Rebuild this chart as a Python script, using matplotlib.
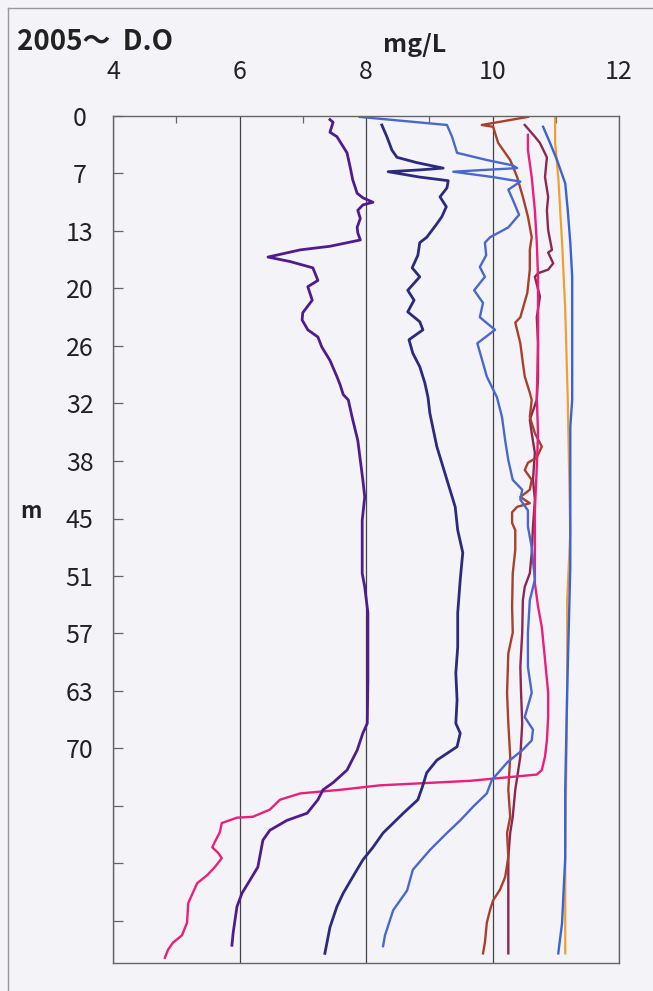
import numpy as np
import matplotlib
matplotlib.use("Agg")
import matplotlib.pyplot as plt
from matplotlib.lines import Line2D

plt.rcParams['font.family'] = ['Noto Sans CJK JP', 'DejaVu Sans']

# 溶存酸素プロファイル (mg/L, 水深 m)
do_a = [7.43, 7.48, 7.43, 7.54, 7.70, 7.75, 7.79, 7.86, 7.95, 8.11, 7.95, 7.87, 7.91, 7.86, 7.87, 7.91,
        7.43, 6.96, 6.45, 6.80, 7.16, 7.24, 7.08, 7.15, 7.00, 6.99, 7.08, 7.24, 7.30, 7.43, 7.54, 7.59,
        7.64, 7.72, 7.79, 7.87, 7.91, 7.95, 7.98, 7.94, 7.94, 7.94, 7.98, 8.03, 8.03, 8.02, 7.95, 7.86,
        7.70, 7.48, 7.32, 7.24, 7.07, 6.75, 6.48, 6.37, 6.29, 6.17, 6.04, 5.96, 5.90, 5.88]
dep_a = [0.4, 0.7, 1.8, 2.3, 4.1, 5.7, 7.1, 8.6, 9.1, 9.6, 9.9, 10.5, 11.4, 12.4, 13.0, 13.8,
         14.5, 14.9, 15.7, 16.2, 16.9, 18.3, 19.0, 20.5, 21.9, 22.7, 23.8, 24.6, 25.7, 27.2, 29.0, 29.9,
         31.0, 31.6, 33.8, 36.1, 38.3, 40.5, 42.4, 45.0, 48.0, 50.9, 52.4, 55.3, 62.8, 67.6, 68.7, 70.6,
         72.8, 74.2, 75.0, 76.1, 77.6, 78.4, 79.5, 80.6, 83.6, 85.0, 86.5, 88.0, 90.9, 92.3]

do_b = [8.25, 8.33, 8.41, 8.49, 8.81, 9.22, 8.85, 8.35, 8.85, 9.30, 9.28, 9.17, 9.27, 9.20, 9.11, 8.96,
        8.85, 8.82, 8.73, 8.85, 8.66, 8.76, 8.66, 8.85, 8.90, 8.68, 8.74, 8.85, 8.93, 8.98, 9.01, 9.12,
        9.28, 9.41, 9.45, 9.53, 9.49, 9.45, 9.45, 9.42, 9.44, 9.42, 9.49, 9.44, 9.12, 8.96, 8.89, 8.82,
        8.59, 8.27, 8.11, 7.95, 7.79, 7.64, 7.54, 7.43, 7.35]
dep_b = [1.0, 2.3, 3.8, 4.6, 5.2, 5.8, 6.0, 6.2, 6.8, 7.2, 8.0, 9.0, 10.1, 11.2, 12.1, 13.5,
         14.1, 15.5, 16.9, 17.9, 19.4, 20.5, 21.8, 22.9, 23.8, 24.9, 26.4, 27.9, 29.7, 31.3, 33.1, 36.8,
         40.5, 43.5, 46.1, 48.6, 51.6, 55.3, 59.1, 62.0, 65.0, 67.6, 68.7, 70.2, 71.7, 73.1, 74.7, 76.1,
         77.6, 79.8, 81.4, 82.8, 84.7, 86.5, 88.0, 90.3, 93.2]

do_c = [7.90, 9.28, 9.36, 9.44, 9.91, 10.32, 10.39, 9.38, 10.01, 10.44, 10.25, 10.32, 10.42, 10.25, 9.96,
        9.88, 9.90, 9.80, 9.88, 9.71, 9.85, 9.80, 10.04, 9.76, 9.85, 9.91, 10.07, 10.15, 10.20, 10.25,
        10.32, 10.47, 10.44, 10.56, 10.56, 10.62, 10.67, 10.59, 10.56, 10.56, 10.62, 10.51, 10.64, 10.62,
        10.47, 10.24, 9.99, 9.91, 9.69, 9.49, 9.28, 9.01, 8.74, 8.65, 8.43, 8.30, 8.27]
dep_c = [0.1, 1.0, 2.3, 4.1, 4.9, 5.5, 5.8, 6.2, 6.8, 7.3, 8.2, 9.3, 11.0, 12.4, 13.5,
         14.1, 15.5, 16.8, 17.9, 19.4, 20.8, 22.4, 23.8, 25.3, 27.5, 29.0, 31.3, 33.5, 36.1, 38.3,
         40.5, 41.6, 42.7, 43.9, 45.7, 48.0, 51.6, 53.9, 57.5, 61.3, 64.2, 66.9, 68.3, 69.5,
         70.6, 71.9, 73.9, 75.4, 76.9, 78.4, 79.8, 81.7, 83.9, 86.2, 88.4, 91.2, 92.4]

do_d = [10.56, 9.83, 10.01, 10.09, 10.28, 10.39, 10.48, 10.56, 10.62, 10.59, 10.59, 10.55, 10.44, 10.36,
        10.44, 10.48, 10.51, 10.59, 10.62, 10.59, 10.67, 10.78, 10.70, 10.56, 10.51, 10.62, 10.59, 10.44,
        10.59, 10.39, 10.31, 10.31, 10.36, 10.36, 10.32, 10.31, 10.32, 10.25, 10.23, 10.25, 10.28, 10.25,
        10.28, 10.23, 10.25, 10.20, 10.12, 10.01, 9.96, 9.91, 9.88, 9.85]
dep_d = [0.1, 1.0, 1.2, 3.0, 4.9, 6.8, 9.0, 11.2, 13.5, 14.9, 17.1, 19.7, 22.4, 23.0,
         25.3, 27.5, 29.0, 30.8, 31.6, 33.5, 35.3, 36.8, 38.0, 38.6, 39.4, 40.5, 41.6, 42.4,
         43.1, 43.5, 44.1, 45.3, 46.1, 48.3, 50.9, 54.6, 57.5, 59.8, 64.2, 67.6, 71.3, 75.0,
         78.0, 79.8, 82.5, 84.7, 86.1, 87.3, 88.4, 89.8, 92.0, 93.2]

do_e = [10.56, 10.56, 10.62, 10.67, 10.70, 10.72, 10.72, 10.70, 10.72, 10.70, 10.67, 10.67, 10.72, 10.78,
        10.83, 10.88, 10.88, 10.86, 10.83, 10.78, 10.70, 9.64, 8.22, 7.59, 6.96, 6.64, 6.48, 6.21, 5.96,
        5.72, 5.69, 5.61, 5.57, 5.66, 5.72, 5.61, 5.49, 5.33, 5.19, 5.17, 5.09, 4.95, 4.87, 4.82]
dep_e = [2.1, 3.8, 6.8, 10.5, 14.1, 17.9, 25.3, 31.3, 35.3, 39.1, 43.9, 52.0, 54.6, 56.9,
         60.5, 64.2, 66.9, 69.5, 71.3, 72.8, 73.3, 74.0, 74.5, 75.0, 75.4, 76.1, 77.2, 78.0, 78.1,
         78.7, 79.7, 80.8, 81.4, 82.0, 82.6, 83.6, 84.5, 85.4, 87.6, 89.8, 91.2, 92.0, 92.8, 93.7]

do_f = [10.51, 10.67, 10.75, 10.86, 10.83, 10.88, 10.86, 10.88, 10.94, 10.88, 10.96, 10.88, 10.72, 10.67,
        10.75, 10.70, 10.72, 10.72, 10.70, 10.59, 10.62, 10.67, 10.64, 10.67, 10.64, 10.62, 10.59, 10.51,
        10.48, 10.47, 10.44, 10.45, 10.47, 10.44, 10.36, 10.32, 10.28, 10.25, 10.25]
dep_f = [1.0, 2.3, 3.0, 4.6, 6.8, 9.0, 10.5, 12.7, 14.9, 15.2, 16.4, 17.1, 17.5, 17.9,
         20.1, 22.4, 25.3, 29.0, 31.6, 33.8, 35.3, 37.5, 40.5, 42.7, 45.7, 48.6, 50.9, 52.4,
         53.9, 57.5, 61.3, 63.9, 67.6, 71.3, 75.0, 78.0, 79.8, 82.5, 93.2]

do_g = [10.80, 10.91, 11.02, 11.15, 11.19, 11.23, 11.26, 11.26, 11.23, 11.23, 11.18, 11.15, 11.15, 11.10, 11.04]
dep_g = [1.2, 3.0, 4.9, 7.5, 10.5, 14.1, 17.9, 31.6, 34.6, 50.2, 64.2, 75.0, 82.5, 89.8, 93.2]

do_h = [10.99, 10.99, 11.04, 11.10, 11.15, 11.19, 11.23, 11.18, 11.18, 11.15, 11.15]
dep_h = [0.1, 3.0, 6.8, 14.1, 21.6, 31.6, 46.4, 53.9, 64.2, 82.5, 93.2]

x_ticks = [4, 6, 8, 10, 12]
x_minor = [5, 7, 9, 11]
depth_step = 6.4
depth_labels = ['0', '7', '13', '20', '26', '32', '38', '45', '51', '57', '63', '70', '', '', '']

bg = '#f3f3f8'
fig = plt.figure(figsize=(6.53, 9.91), dpi=100, facecolor=bg)
ax = fig.add_axes([113 / 653, 1 - 963 / 991, 506 / 653, 847 / 991])
ax.set_facecolor(bg)

# 描画順: 奥から手前へ
profiles = [
    (do_h, dep_h, '#f0a030', 1.6),
    (do_g, dep_g, '#3a62d8', 1.7),
    (do_f, dep_f, '#8c2850', 1.7),
    (do_d, dep_d, '#a8402c', 1.7),
    (do_e, dep_e, '#e8207a', 1.7),
    (do_c, dep_c, '#4a68cc', 1.7),
    (do_b, dep_b, '#2c2a7e', 2.0),
    (do_a, dep_a, '#4f1c8e', 2.0),
]
for x, y, c, lw in profiles:
    ax.plot(x, y, color=c, lw=lw, solid_joinstyle='round')

ax.set_xlim(4, 12)
ax.set_ylim(depth_step * 847 / 57.5, 0)

ax.xaxis.tick_top()
ax.set_xticks(x_ticks)
ax.set_xticklabels([str(v) for v in x_ticks])
ax.set_xticks(x_minor, minor=True)
ax.tick_params(axis='x', which='major', length=0, pad=22, labelsize=18, labelcolor='#222')
ax.tick_params(axis='x', which='minor', direction='in', length=5, width=0.9, color='#666',
               top=True, bottom=False)
ax.grid(axis='x', which='major', color='#444', lw=0.9)

yt = np.arange(len(depth_labels)) * depth_step
ax.set_yticks(yt)
ax.set_yticklabels(depth_labels)
ax.tick_params(axis='y', direction='in', length=7, width=0.9, color='#666',
               pad=24, labelsize=18, labelcolor='#222')
for lab in ax.get_yticklabels():
    lab.set_horizontalalignment('center')

for s in ax.spines.values():
    s.set_color('#666')
    s.set_linewidth(1.0)

fig.text(17 / 653, 1 - 50 / 991, '2005〜  D.O', fontsize=20, fontweight='bold',
         color='#222', ha='left', va='baseline')
fig.text(415 / 653, 1 - 52 / 991, 'mg/L', fontsize=18, fontweight='bold',
         color='#222', ha='center', va='baseline')
fig.text(31 / 653, 1 - 511 / 991, 'm', fontsize=16, fontweight='bold',
         color='#222', ha='center', va='center')

# 外枠
fig.add_artist(Line2D([8 / 653, 1], [1 - 8 / 991, 1 - 8 / 991], transform=fig.transFigure,
                      color='#999', lw=1.0))
fig.add_artist(Line2D([8 / 653, 8 / 653], [0, 1 - 8 / 991], transform=fig.transFigure,
                      color='#999', lw=1.0))

fig.savefig('out.png', dpi=100, facecolor=bg)
